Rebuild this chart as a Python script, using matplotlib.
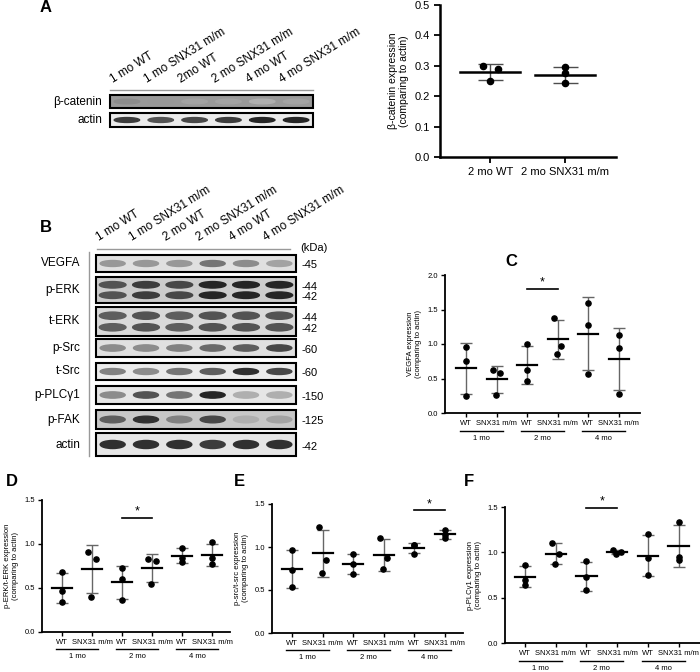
import matplotlib
matplotlib.use('Agg')
import matplotlib.pyplot as plt
from matplotlib.patches import Rectangle, Ellipse
import numpy as np

W, H = 700, 672

# ---- data ----
groups = ['WT', 'SNX31 m/m'] * 3
ages = ['1 mo', '2 mo', '4 mo']
lanes = ['1 mo WT', '1 mo SNX31 m/m', '2 mo WT', '2 mo SNX31 m/m', '4 mo WT', '4 mo SNX31 m/m']
lanes_a = ['1 mo WT', '1 mo SNX31 m/m', '2mo WT', '2 mo SNX31 m/m', '4 mo WT', '4 mo SNX31 m/m']

bcat_wt = [0.30, 0.29, 0.25]
bcat_snx = [0.295, 0.276, 0.243]

vegfa_pts = [[0.95, 0.76, 0.24], [0.62, 0.58, 0.26], [1.00, 0.62, 0.46],
             [1.38, 0.97, 0.85], [1.60, 1.28, 0.57], [1.13, 0.94, 0.27]]
perk_pts = [[0.68, 0.47, 0.34], [0.91, 0.83, 0.40], [0.73, 0.60, 0.36],
            [0.83, 0.81, 0.55], [0.96, 0.84, 0.80], [1.02, 0.84, 0.77]]
psrc_pts = [[0.97, 0.73, 0.53], [1.23, 0.85, 0.70], [0.92, 0.80, 0.69],
            [1.11, 0.87, 0.75], [1.02, 1.02, 0.92], [1.20, 1.14, 1.10]]
pplc_pts = [[0.86, 0.69, 0.64], [1.10, 0.98, 0.87], [0.90, 0.73, 0.58],
            [1.03, 1.00, 0.98], [1.20, 0.94, 0.75], [1.34, 0.95, 0.92]]

# band darkness per lane (0 = none, 1 = black)
blot_a = {
    'β-catenin': [0.50, 0.45, 0.40, 0.40, 0.35, 0.40],
    'actin': [0.85, 0.75, 0.80, 0.85, 0.95, 0.95],
}
blot_b = {
    'VEGFA': [0.45, 0.45, 0.45, 0.60, 0.50, 0.40],
    'p-ERK': [0.75, 0.85, 0.80, 0.95, 0.95, 0.95],
    't-ERK': [0.70, 0.75, 0.70, 0.75, 0.75, 0.75],
    'p-Src': [0.50, 0.50, 0.55, 0.65, 0.70, 0.80],
    't-Src': [0.55, 0.50, 0.60, 0.70, 0.90, 0.80],
    'p-PLCγ1': [0.50, 0.75, 0.60, 0.95, 0.35, 0.35],
    'p-FAK': [0.70, 0.90, 0.55, 0.80, 0.35, 0.40],
    'actin': [0.90, 0.90, 0.90, 0.85, 0.90, 0.90],
}
kda_b = ['-45', '-44\n-42', '-44\n-42', '-60', '-60', '-150', '-125', '-42']

plt.rcParams['font.family'] = ['Liberation Sans', 'DejaVu Sans']
fig = plt.figure(figsize=(7, 6.72), dpi=100)
ov = fig.add_axes([0, 0, 1, 1])
ov.set_xlim(0, W)
ov.set_ylim(H, 0)
ov.axis('off')


def draw_strip(x0, x1, y0, y1, vals, bg, double=False):
    ov.add_patch(Rectangle((x0, y0), x1 - x0, y1 - y0, facecolor=bg,
                           edgecolor='black', lw=1.5, zorder=1))
    n = len(vals)
    lw_ = (x1 - x0) / n
    for i, v in enumerate(vals):
        cx = x0 + lw_ * (i + 0.5)
        col = str(max(0, 1 - v * 0.9))
        if double:
            hh = (y1 - y0)
            for cy in (y0 + hh * 0.3, y0 + hh * 0.7):
                ov.add_patch(Ellipse((cx, cy), lw_ * 0.8, hh * 0.25, color=col, zorder=2))
        else:
            ov.add_patch(Ellipse((cx, (y0 + y1) / 2), lw_ * 0.75, (y1 - y0) * 0.35,
                                 color=col, zorder=2))


def lane_headers(x0, x1, y, labels):
    n = len(labels)
    for i, lab in enumerate(labels):
        cx = x0 + (x1 - x0) * (i + 0.5) / n - 12
        ov.text(cx, y, lab, rotation=32, ha='left', va='bottom', fontsize=8.5,
                rotation_mode='anchor')


# ---- panel A blot ----
ov.text(40, 8, 'A', fontsize=12, fontweight='bold', va='center')
lane_headers(110, 313, 86, lanes_a)
ov.plot([110, 313], [90, 90], color='0.6', lw=1)
draw_strip(110, 313, 95, 108, blot_a['β-catenin'], '0.6')
draw_strip(110, 313, 113, 127, blot_a['actin'], '0.92')
ov.text(102, 102, 'β-catenin', ha='right', va='center', fontsize=8.5)
ov.text(102, 120, 'actin', ha='right', va='center', fontsize=8.5)

# ---- panel B blot ----
ov.text(40, 228, 'B', fontsize=12, fontweight='bold', va='center')
lane_headers(96, 296, 244, lanes)
ov.plot([97, 290], [249, 249], color='0.6', lw=1)
ov.plot([89, 89], [252, 456], color='0.6', lw=1)
ov.text(300, 248, '(kDa)', fontsize=8, va='center')
strip_y = [(255, 272), (277, 303), (307, 336), (339, 357), (363, 380), (386, 404), (410, 429), (433, 456)]
strip_bg = ['0.88', '0.8', '0.85', '0.88', '0.92', '0.9', '0.78', '0.9']
for (name, vals), (y0, y1), bg, kd in zip(blot_b.items(), strip_y, strip_bg, kda_b):
    draw_strip(96, 296, y0, y1, vals, bg, double=name in ('p-ERK', 't-ERK'))
    ov.text(80, (y0 + y1) / 2, name, ha='right', va='center', fontsize=8.5)
    ov.text(302, (y0 + y1) / 2 + 2, kd, ha='left', va='center', fontsize=8, linespacing=1.1)


def px_axes(l, t, r, b):
    return fig.add_axes([l / W, 1 - b / H, (r - l) / W, (b - t) / H])


def style(ax, lw=1.5):
    for s in ('top', 'right'):
        ax.spines[s].set_visible(False)
    for s in ('left', 'bottom'):
        ax.spines[s].set_linewidth(lw)
    ax.patch.set_alpha(0)


jit = [0.0, 0.15, 0.0]


def scatter_panel(ax, pts, ylim, yticks, ylabel, sig, xlim, fs=5.5):
    for i, p in enumerate(pts):
        p = np.array(p)
        m, sd = p.mean(), p.std(ddof=1)
        xs = [i - 0.12 + j for j in (0.0, 0.24, 0.1)] if i in (1, 3) else [i] * 3
        ax.errorbar(i, m, yerr=sd, color='0.4', lw=1, capsize=4, capthick=1, zorder=2)
        ax.plot([i - 0.33, i + 0.33], [m, m], color='black', lw=1.6, zorder=3)
        ax.scatter(xs, p, s=14, color='black', zorder=4)
    ax.set_xlim(*xlim)
    ax.set_ylim(*ylim)
    ax.set_yticks(yticks)
    ax.set_yticklabels([f'{v:.1f}' for v in yticks], fontsize=fs)
    ax.set_xticks(range(6))
    ax.set_xticklabels(groups, fontsize=fs)
    ax.tick_params(length=3, width=1, pad=2)
    ax.set_ylabel(ylabel, fontsize=fs, linespacing=1.1)
    tr = ax.get_xaxis_transform()
    for k, age in enumerate(ages):
        ax.plot([2 * k - 0.2, 2 * k + 1.2], [-0.13, -0.13], color='black', lw=1,
                transform=tr, clip_on=False)
        ax.text(2 * k + 0.5, -0.16, age, ha='center', va='top', fontsize=fs, transform=tr)
    a, b_, y = sig
    ax.plot([a, b_], [y, y], color='black', lw=1.2)
    ax.text((a + b_) / 2, y, '*', ha='center', va='bottom', fontsize=9)
    style(ax, 1.3)


# ---- panel A chart ----
axA = px_axes(440, 5, 616, 157)
for i, p in enumerate([bcat_wt, bcat_snx]):
    p = np.array(p)
    m, sd = p.mean(), p.std(ddof=1)
    xs = [i - 0.1, i + 0.1, i] if i == 0 else [i] * 3
    axA.errorbar(i, m, yerr=sd, color='0.3', lw=1, capsize=9, capthick=1)
    axA.plot([i - 0.4, i + 0.4], [m, m], color='black', lw=1.8)
    axA.scatter(xs, p, s=20, color='black', zorder=4)
axA.set_xlim(-0.67, 1.68)
axA.set_ylim(0, 0.5)
axA.set_yticks([0, 0.1, 0.2, 0.3, 0.4, 0.5])
axA.set_yticklabels(['0.0', '0.1', '0.2', '0.3', '0.4', '0.5'], fontsize=8)
axA.set_xticks([0, 1])
axA.set_xticklabels(['2 mo WT', '2 mo SNX31 m/m'], fontsize=8)
axA.set_ylabel('β-catenin expression\n(comparing to actin)', fontsize=7.5, linespacing=1.1)
axA.tick_params(length=4, width=1.3)
style(axA, 1.8)

# ---- panels C-F ----
ov.text(505, 262, 'C', fontsize=12, fontweight='bold', va='center')
axC = px_axes(445, 275, 640, 413)
scatter_panel(axC, vegfa_pts, (0, 2.0), [0, 0.5, 1.0, 1.5, 2.0],
              'VEGFA expression\n(comparing to actin)', (2, 3, 1.8), (-0.69, 5.69))

ov.text(6, 482, 'D', fontsize=12, fontweight='bold', va='center')
axD = px_axes(42, 500, 230, 632)
scatter_panel(axD, perk_pts, (0, 1.5), [0, 0.5, 1.0, 1.5],
              'p-ERK/t-ERK expression\n(comparing to actin)', (2, 3, 1.3), (-0.67, 5.6))

ov.text(234, 482, 'E', fontsize=12, fontweight='bold', va='center')
axE = px_axes(272, 504, 463, 633)
scatter_panel(axE, psrc_pts, (0, 1.5), [0, 0.5, 1.0, 1.5],
              'p-src/t-src expression\n(comparing to actin)', (4, 5, 1.43), (-0.66, 5.6))

ov.text(464, 482, 'F', fontsize=12, fontweight='bold', va='center')
axF = px_axes(505, 507, 700, 643)
scatter_panel(axF, pplc_pts, (0, 1.5), [0, 0.5, 1.0, 1.5],
              'p-PLCγ1 expression\n(comparing to actin)', (2, 3, 1.49), (-0.65, 5.7))

fig.savefig('out.png', dpi=100)
